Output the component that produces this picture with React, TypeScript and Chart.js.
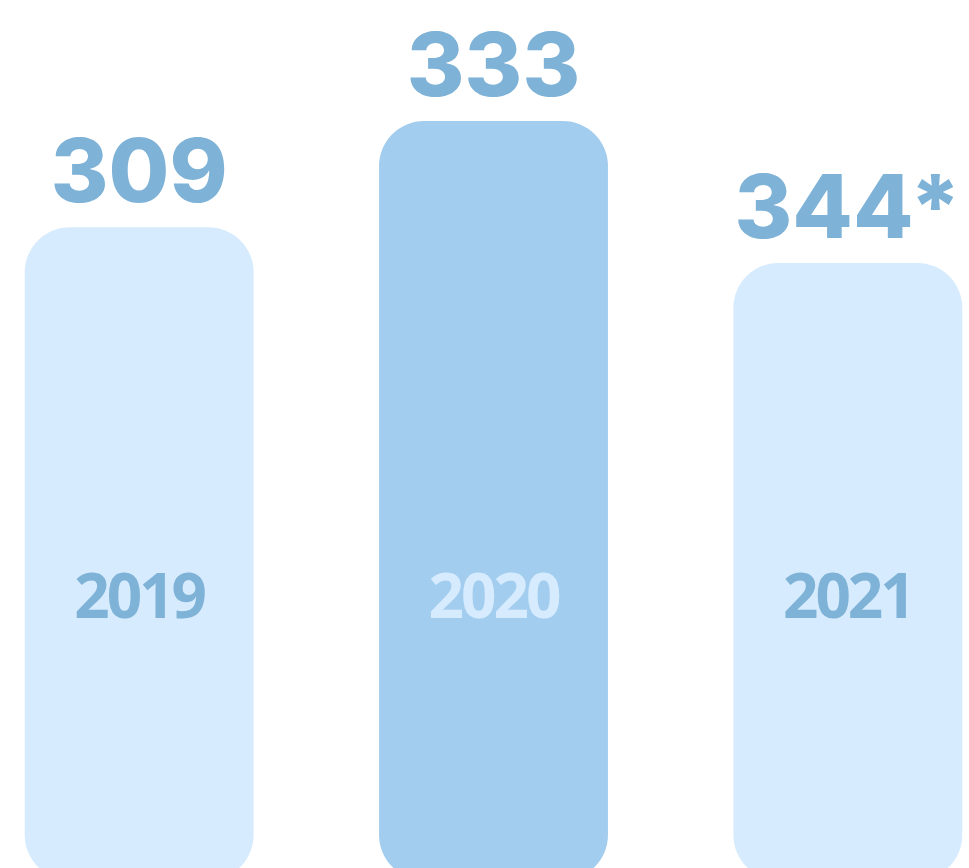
import React, { useEffect, useRef } from "react";
import { Chart, registerables } from "chart.js";

Chart.register(...registerables);

// Categories (years) shown inside the bars
const years = ["2019", "2020", "2021"];
// Value labels shown above the bars
const valueLabels = ["309", "333", "344*"];
// Relative bar heights as drawn (percent of the tallest bar)
const barHeights = [86, 100, 81.3];
// Bar fill colours (2020 highlighted)
const barColors = ["#D6EBFD", "#A3CDEE", "#D6EBFD"];
// Year label colours
const yearColors = ["#7EB2D7", "#D6EBFD", "#7EB2D7"];
const valueColor = "#7EB2D7";

const labelPlugin = {
  id: "barLabels",
  afterDatasetsDraw(chart: any) {
    const ctx = chart.ctx;
    const meta = chart.getDatasetMeta(0);
    const yScale = chart.scales.y;
    const yearY = yScale.getPixelForValue(36.9);
    ctx.save();
    meta.data.forEach((bar: any, i: number) => {
      ctx.font = "800 88px Inter";
      ctx.fillStyle = valueColor;
      ctx.textAlign = "center";
      ctx.textBaseline = "alphabetic";
      (ctx as any).letterSpacing = "0px";
      ctx.fillText(valueLabels[i], bar.x, bar.y - 25);
      ctx.font = "700 62px 'Open Sans'";
      (ctx as any).letterSpacing = "-3px";
      ctx.fillStyle = yearColors[i];
      ctx.textBaseline = "middle";
      ctx.fillText(years[i], bar.x, yearY);
    });
    ctx.restore();
  },
};

export default function App() {
  const canvasRef = useRef<HTMLCanvasElement | null>(null);

  useEffect(() => {
    document.body.style.margin = "0";
    const canvas = canvasRef.current;
    if (!canvas) return;
    const chart = new Chart(canvas, {
      type: "bar",
      data: {
        labels: years,
        datasets: [
          {
            data: barHeights,
            backgroundColor: barColors,
            borderRadius: 45,
            borderSkipped: false,
            categoryPercentage: 1,
            barPercentage: 0.646,
          },
        ],
      },
      options: {
        animation: false,
        responsive: false,
        maintainAspectRatio: false,
        layout: {
          padding: { left: 0, right: 0, top: 121, bottom: 0 },
        },
        plugins: {
          legend: { display: false },
          tooltip: { enabled: false },
        },
        scales: {
          x: { display: false },
          y: { display: false, min: 0, max: 100 },
        },
      },
      plugins: [labelPlugin],
    });
    return () => chart.destroy();
  }, []);

  return (
    <div
      style={{
        width: 969,
        height: 868,
        position: "relative",
        overflow: "hidden",
        background: "#ffffff",
      }}
    >
      <canvas
        ref={canvasRef}
        width={1063}
        height={880}
        style={{ position: "absolute", left: -38, top: 0 }}
      />
    </div>
  );
}
